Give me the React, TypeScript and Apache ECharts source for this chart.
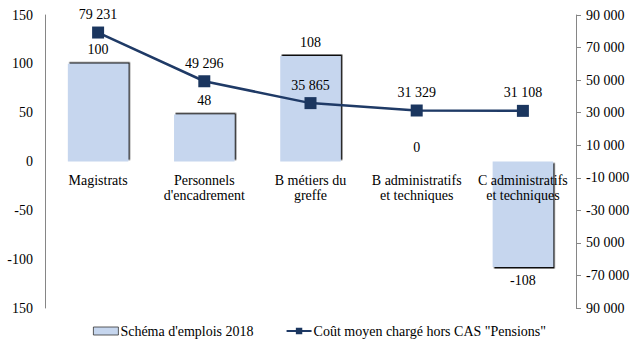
import React, { useEffect, useRef } from "react";
import * as echarts from "echarts";

const categories = [
  "Magistrats",
  "Personnels\nd'encadrement",
  "B métiers du\ngreffe",
  "B administratifs\net techniques",
  "C administratifs\net techniques",
];
const schemaEmplois2018 = [100, 48, 108, 0, -108];
const coutMoyenCharge = [79231, 49296, 35865, 31329, 31108];

const leftTickValues = [-150, -100, -50, 0, 50, 100, 150];
const leftTickLabels = ["150", "-100", "-50", "0", "50", "100", "150"];
const rightTickValues = [-90000, -70000, -50000, -30000, -10000, 10000, 30000, 50000, 70000, 90000];
const rightTickLabels = ["90 000", "-70 000", "50 000", "-30 000", "-10 000", "10 000", "30 000", "50 000", "70 000", "90 000"];

const FONT = "'Liberation Serif', 'DejaVu Serif', serif";
const fmtThousands = (v: number) =>
  (v < 0 ? "-" : "") + String(Math.abs(v)).replace(/\B(?=(\d{3})+(?!\d))/g, " ");

export default function App() {
  const ref = useRef<HTMLDivElement>(null);
  useEffect(() => {
    if (!ref.current) return;
    const chart = echarts.init(ref.current, null, { renderer: "svg" });
    chart.setOption({
      animation: false,
      textStyle: { fontFamily: FONT, color: "#000" },
      grid: { left: 45, right: 63, top: 15, bottom: 49 },
      legend: {
        bottom: 14,
        left: "center",
        itemWidth: 25,
        itemHeight: 8,
        itemGap: 32,
        textStyle: { fontFamily: FONT, fontSize: 14, color: "#000", padding: [0, 0, 0, -3] },
        data: [
          {
            name: "Schéma d'emplois 2018",
            icon: "rect",
            itemStyle: { color: "#c6d6ee", borderColor: "#333", borderWidth: 0.8, shadowBlur: 0, shadowOffsetX: 0, shadowOffsetY: 0 },
          },
          { name: "Coût moyen chargé hors CAS \"Pensions\"" },
        ],
      },
      xAxis: {
        type: "category",
        data: categories,
        position: "bottom",
        offset: -146.5,
        z: 4,
        axisLine: { show: false, onZero: false },
        axisTick: { show: false },
        axisLabel: {
          interval: 0,
          fontFamily: FONT,
          fontSize: 14,
          lineHeight: 15,
          margin: 11,
          color: "#000",
        },
      },
      yAxis: [
        {
          type: "value",
          min: -150,
          max: 150,
          interval: 50,
          position: "left",
          splitLine: { show: false },
          axisLine: { show: true, lineStyle: { color: "#868686", width: 1 } },
          axisTick: { show: false },
          axisLabel: {
            fontFamily: FONT,
            fontSize: 14,
            color: "#000",
            margin: 12,
            formatter: (v: number) => {
              const i = leftTickValues.indexOf(v);
              return i >= 0 ? leftTickLabels[i] : "";
            },
          },
        },
        {
          type: "value",
          min: -90000,
          max: 90000,
          interval: 20000,
          position: "right",
          splitLine: { show: false },
          axisLine: { show: true, lineStyle: { color: "#868686", width: 1 } },
          axisTick: { show: true, length: 5, lineStyle: { color: "#868686" } },
          axisLabel: {
            fontFamily: FONT,
            fontSize: 14,
            color: "#000",
            margin: 10,
            formatter: (v: number) => {
              const i = rightTickValues.indexOf(v);
              return i >= 0 ? rightTickLabels[i] : "";
            },
          },
        },
      ],
      series: [
        {
          name: "Schéma d'emplois 2018",
          type: "bar",
          yAxisIndex: 0,
          barWidth: "57%",
          data: schemaEmplois2018.map((v) => ({
            value: v,
            itemStyle: {
              color: "#c6d6ee",
              shadowColor: "#111",
              shadowBlur: 0,
              shadowOffsetX: 1.5,
              shadowOffsetY: v < 0 ? 1.5 : -1.5,
            },
            label: { position: v < 0 ? "bottom" : "top" },
          })),
          itemStyle: { color: "#c6d6ee" },
          label: {
            show: true,
            distance: 7,
            fontFamily: FONT,
            fontSize: 14,
            color: "#000",
          },
          z: 2,
        },
        {
          name: "Coût moyen chargé hors CAS \"Pensions\"",
          type: "line",
          yAxisIndex: 1,
          data: coutMoyenCharge,
          symbol: "rect",
          symbolSize: 12,
          lineStyle: { color: "#1f3a66", width: 2.5 },
          itemStyle: { color: "#1b365f" },
          label: {
            show: true,
            position: "top",
            distance: 5,
            fontFamily: FONT,
            fontSize: 14,
            color: "#000",
            formatter: (p: any) => fmtThousands(p.value),
          },
          z: 5,
        },
      ],
    });
    return () => chart.dispose();
  }, []);
  return (
    <div
      ref={ref}
      style={{ position: "absolute", left: 0, top: 0, width: 639, height: 357, background: "#fff" }}
    />
  );
}
